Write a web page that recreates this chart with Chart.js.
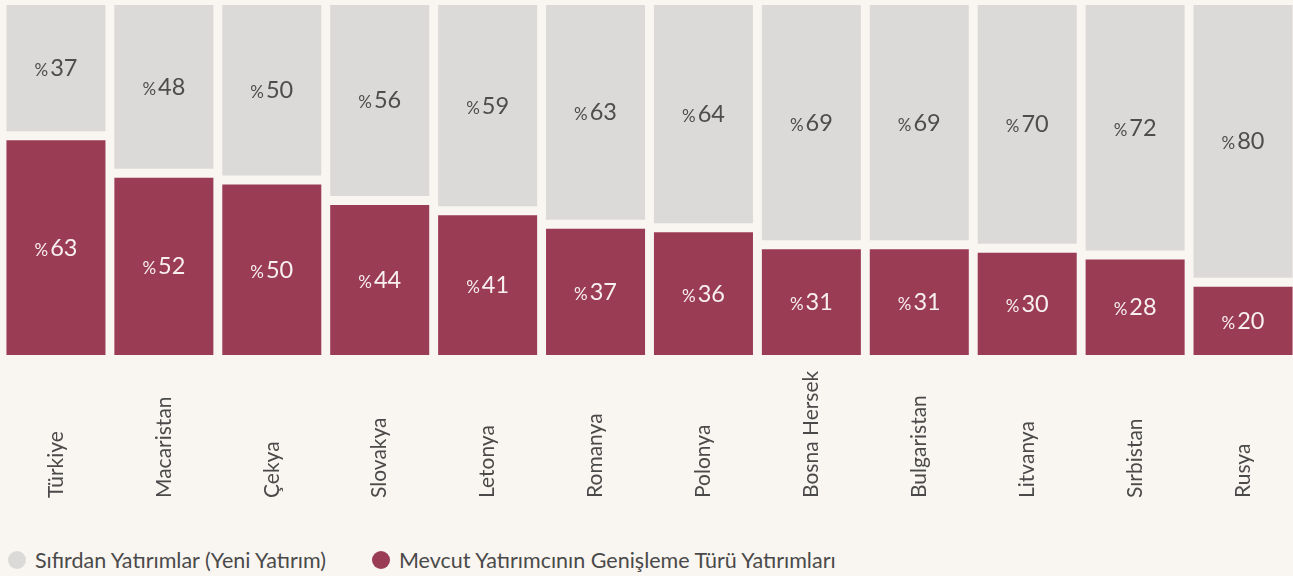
<!DOCTYPE html>
<html>
<head>
<meta charset="utf-8">
<script src="https://cdn.jsdelivr.net/npm/chart.js@4"></script>
<style>
  html, body { margin: 0; padding: 0; background: #f9f5f0; overflow: hidden; }
  #wrap { width: 1297px; height: 540px; position: relative; }
  #legend { display: flex; align-items: center; margin-top: 7px; font-family: Lato, sans-serif; font-size: 21.5px; color: #4a4a4a; }
  .item { display: flex; align-items: center; margin-left: 8px; margin-right: 38px; }
  .dot { width: 18px; height: 18px; border-radius: 50%; margin-right: 9px; }
</style>
</head>
<body>
<div id="wrap"><canvas id="grafik"></canvas></div>
<div id="legend"></div>
<script>
const ulkeler = ['Türkiye', 'Macaristan', 'Çekya', 'Slovakya', 'Letonya', 'Romanya', 'Polonya', 'Bosna Hersek', 'Bulgaristan', 'Litvanya', 'Sırbistan', 'Rusya']
const yeniYatirim = [37, 48, 50, 56, 59, 63, 64, 69, 69, 70, 72, 80]
const genisleme = [63, 52, 50, 44, 41, 37, 36, 31, 31, 30, 28, 20]

const bosluk = 2.64 // iki parca arasindaki bosluk, eksen biriminde
const arkaPlan = '#f9f5f0'
const gri = '#dcdad8'
const bordo = '#9b3c55'
const yaziRengi = '#4a4a4a'

// yuzde etiketleri: kucuk % ve buyuk sayi
const yuzdeEtiketleri = {
  id: 'yuzdeEtiketleri',
  afterDatasetsDraw(chart) {
    const ctx = chart.ctx
    ctx.save()
    ctx.textBaseline = 'alphabetic'
    chart.data.datasets.forEach((ds, di) => {
      const meta = chart.getDatasetMeta(di)
      meta.data.forEach((bar, i) => {
        const cy = (bar.y + bar.base) / 2
        const deger = String(ds.degerler[i])
        ctx.fillStyle = di === 0 ? '#f7eff0' : '#4d4d4d'
        ctx.font = '17px Lato'
        const w1 = ctx.measureText('%').width
        ctx.font = '23.5px Lato'
        const w2 = ctx.measureText(deger).width
        const x0 = bar.x - (w1 + w2 + 2) / 2
        ctx.font = '17px Lato'
        ctx.fillText('%', x0, cy + 8)
        ctx.font = '23.5px Lato'
        ctx.fillText(deger, x0 + w1 + 2, cy + 8)
      })
    })
    ctx.restore()
  }
}

// ulke adlari dikey, alttan baslayarak
const ulkeEtiketleri = {
  id: 'ulkeEtiketleri',
  afterDraw(chart) {
    const ctx = chart.ctx
    const x = chart.scales.x
    ctx.save()
    ctx.font = '21px Lato'
    ctx.fillStyle = yaziRengi
    ctx.textAlign = 'left'
    ctx.textBaseline = 'middle'
    ulkeler.forEach((u, i) => {
      ctx.save()
      ctx.translate(x.getPixelForValue(i), chart.chartArea.bottom + 143)
      ctx.rotate(-Math.PI / 2)
      ctx.fillText(u, 0, 0)
      ctx.restore()
    })
    ctx.restore()
  }
}

const grafik = new Chart(document.getElementById('grafik'), {
  type: 'bar',
  data: {
    labels: ulkeler,
    datasets: [{
      label: 'Mevcut Yatırımcının Genişleme Türü Yatırımları',
      degerler: genisleme,
      data: genisleme.map(v => [0, v]),
      backgroundColor: bordo
    }, {
      label: 'Sıfırdan Yatırımlar (Yeni Yatırım)',
      degerler: yeniYatirim,
      data: yeniYatirim.map((v, i) => [genisleme[i] + bosluk, genisleme[i] + bosluk + v]),
      backgroundColor: gri
    }]
  },
  options: {
    responsive: true,
    maintainAspectRatio: false,
    animation: false,
    layout: { padding: { top: 5, left: 2, right: 0, bottom: 185 } },
    datasets: { bar: { barPercentage: 0.9175, categoryPercentage: 1, grouped: false } },
    scales: {
      x: { display: false },
      y: { display: false, min: 0, max: 100 + bosluk }
    },
    plugins: { legend: { display: false }, tooltip: { enabled: false } }
  },
  plugins: [yuzdeEtiketleri, ulkeEtiketleri]
})

// HTML lejant
const lejant = document.getElementById('legend')
grafik.data.datasets.slice().reverse().forEach(ds => {
  const el = document.createElement('div')
  el.className = 'item'
  el.innerHTML = '<span class="dot" style="background:' + ds.backgroundColor + '"></span><span>' + ds.label + '</span>'
  lejant.appendChild(el)
})
</script>
</body>
</html>
